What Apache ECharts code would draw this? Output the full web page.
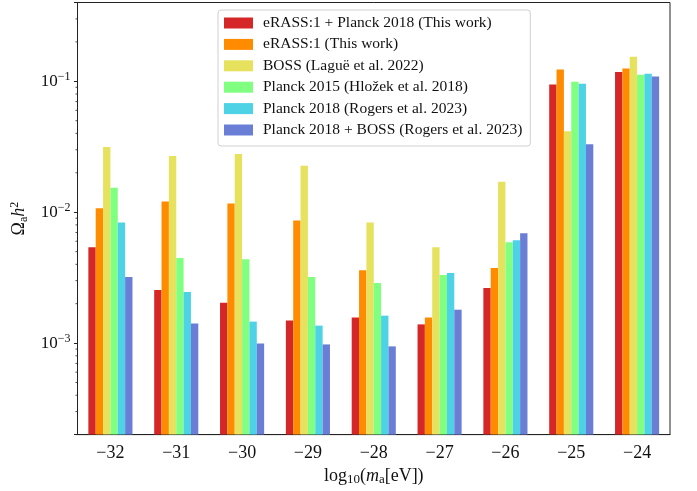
<!DOCTYPE html>
<html><head><meta charset="utf-8">
<script src="https://cdn.jsdelivr.net/npm/echarts@6/dist/echarts.min.js"></script>
<style>html,body{margin:0;padding:0;background:#fff}#c{width:697px;height:491px}</style>
</head><body><div id="c"></div>
<script>
const categories = ['\u221232','\u221231','\u221230','\u221229','\u221228','\u221227','\u221226','\u221225','\u221224'];
const seriesNames = [
  'eRASS:1 + Planck 2018 (This work)',
  'eRASS:1 (This work)',
  'BOSS (Lagu\u00eb et al. 2022)',
  'Planck 2015 (Hlo\u017eek et al. 2018)',
  'Planck 2018 (Rogers et al. 2023)',
  'Planck 2018 + BOSS (Rogers et al. 2023)'
];
const erassPlanck = [5.4e-3, 2.55e-3, 2.03e-3, 1.49e-3, 1.57e-3, 1.39e-3, 2.64e-3, 0.0944, 0.118];
const erass      = [1.07e-2, 1.205e-2, 1.164e-2, 8.65e-3, 3.6e-3, 1.57e-3, 3.74e-3, 0.123, 0.125];
const boss       = [0.0315, 0.0269, 0.0279, 0.0226, 8.35e-3, 5.4e-3, 0.0171, 0.0416, 0.154];
const planck2015 = [0.0154, 4.46e-3, 4.38e-3, 3.2e-3, 2.88e-3, 3.31e-3, 5.89e-3, 0.0994, 0.112];
const planck2018 = [8.35e-3, 2.46e-3, 1.46e-3, 1.36e-3, 1.62e-3, 3.43e-3, 6.1e-3, 0.096, 0.114];
const planckBoss = [3.2e-3, 1.41e-3, 9.95e-4, 9.77e-4, 9.44e-4, 1.8e-3, 6.9e-3, 0.0331, 0.109];
const seriesData = [erassPlanck, erass, boss, planck2015, planck2018, planckBoss];
const colors = ['#d62728', '#ff8c00', '#e6e25e', '#80ff80', '#4dd2e6', '#6b7ed6'];
const yMin = 2e-4, yMax = 0.4;
const minorTicks = [2e-4,3e-4,4e-4,5e-4,6e-4,7e-4,8e-4,9e-4,2e-3,3e-3,4e-3,5e-3,6e-3,7e-3,8e-3,9e-3,2e-2,3e-2,4e-2,5e-2,6e-2,7e-2,8e-2,9e-2,2e-1,3e-1,4e-1];

const FONT = 'Liberation Serif';
const GROUP_FRAC = 0.67;
const NS = seriesNames.length;
const chart = echarts.init(document.getElementById('c'), null, {renderer: 'canvas'});

function makeRender(si) {
  return function (params, api) {
    const cat = api.value(0);
    const val = api.value(1);
    const base = api.coord([cat, yMin]);
    const top = api.coord([cat, val]);
    const band = api.size([1, 0])[0];
    const group = band * GROUP_FRAC;
    const bw = group / NS;
    const x = base[0] - group / 2 + si * bw;
    return {
      type: 'rect',
      shape: {x: x, y: top[1], width: bw, height: base[1] - top[1]},
      style: {fill: colors[si]}
    };
  };
}

const option = {
  backgroundColor: '#fff',
  animation: false,
  textStyle: {fontFamily: FONT, color: '#111'},
  grid: {left: 77.5, right: 27, top: 2.5, bottom: 53.5, show: true, borderColor: '#222', borderWidth: 1, backgroundColor: 'transparent'},
  legend: {
    orient: 'vertical', left: 218, top: 10,
    padding: [5, 8, 8, 6],
    itemWidth: 29, itemHeight: 11, itemGap: 5.4,
    icon: 'rect',
    borderColor: '#d0d0d0', borderWidth: 1, borderRadius: 3,
    backgroundColor: '#fff',
    textStyle: {fontFamily: FONT, fontSize: 15.5, lineHeight: 11, color: '#111', padding: [0, 0, 0, 5]},
    data: seriesNames
  },
  xAxis: {
    type: 'category', data: categories,
    axisLine: {lineStyle: {color: '#222', width: 1}},
    axisTick: {alignWithLabel: true, length: 3.5, lineStyle: {color: '#222'}},
    axisLabel: {fontFamily: FONT, fontSize: 18, color: '#111', margin: 10},
    name: 'log{s|10}({i|m}{s|a}[eV])',
    nameLocation: 'middle', nameGap: 32,
    nameTextStyle: {fontFamily: FONT, fontSize: 18, color: '#111',
      rich: {
        s: {fontFamily: FONT, fontSize: 13, color: '#111', verticalAlign: 'bottom', padding: [6, 0, 0, 0]},
        i: {fontFamily: FONT, fontSize: 18, fontStyle: 'italic', color: '#111'}
      }}
  },
  yAxis: {
    type: 'log', logBase: 10, min: yMin, max: yMax,
    splitLine: {show: false},
    axisLine: {show: true, lineStyle: {color: '#222', width: 1}},
    axisTick: {show: true, length: 3.5, lineStyle: {color: '#222'}},
    axisLabel: {
      fontFamily: FONT, fontSize: 17, color: '#111', margin: 7,
      formatter: function (v) {
        const e = Math.log10(v);
        const r = Math.round(e);
        if (Math.abs(e - r) > 1e-6) return '';
        return '10{s|\u2212' + Math.abs(r) + '}';
      },
      rich: {s: {fontFamily: FONT, fontSize: 12, color: '#111', verticalAlign: 'top', padding: [0, 0, 9, 0]}}
    },
    name: '{o|\u03a9}{s|a}{i|h}{p|2}',
    nameLocation: 'middle', nameGap: 43, nameRotate: 90,
    nameTextStyle: {fontFamily: FONT, fontSize: 18, color: '#111',
      rich: {
        o: {fontFamily: FONT, fontSize: 18, color: '#111'},
        s: {fontFamily: FONT, fontSize: 12, color: '#111', verticalAlign: 'bottom', padding: [6, 0, 0, 0]},
        i: {fontFamily: FONT, fontSize: 18, fontStyle: 'italic', color: '#111'},
        p: {fontFamily: FONT, fontSize: 12, color: '#111', verticalAlign: 'top', padding: [0, 0, 9, 0]}
      }}
  },
  series: seriesNames.map((n, i) => ({
    name: n, type: 'custom',
    data: seriesData[i].map((v, k) => [k, v]),
    encode: {x: 0, y: 1},
    renderItem: makeRender(i),
    itemStyle: {color: colors[i]},
    emphasis: {disabled: true}
  }))
};
chart.setOption(option);

// minor ticks on the log axis, positioned through the axis scale
const gridLeft = 77.5;
const g = minorTicks.map(v => {
  const y = chart.convertToPixel({yAxisIndex: 0}, v);
  return {type: 'line', shape: {x1: gridLeft - 2, y1: y, x2: gridLeft, y2: y}, style: {stroke: '#222', lineWidth: 0.8}, silent: true};
});
chart.setOption({graphic: g});
</script>
</body></html>
